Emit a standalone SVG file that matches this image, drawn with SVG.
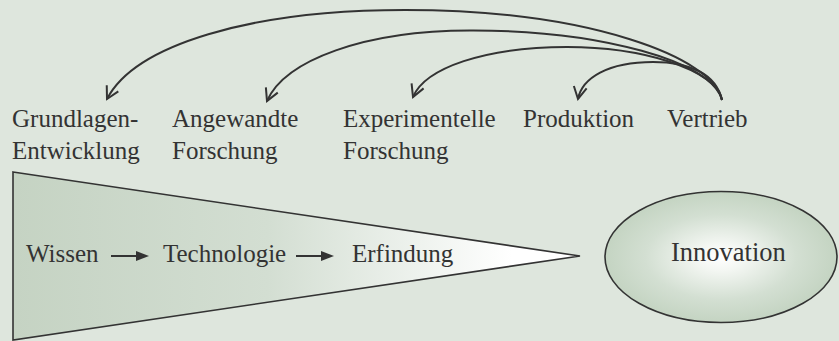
<svg xmlns="http://www.w3.org/2000/svg" width="839" height="341" viewBox="0 0 839 341">
  <defs>
    <style>
      .t { font-family: "Liberation Serif", "Times New Roman", serif; font-size: 25px; fill: #333333; }
      .arc { fill: none; stroke: #333333; stroke-width: 2; marker-end: url(#vhead); }
      .shape { stroke: #333333; stroke-width: 1.6; }
      .small { stroke: #333333; stroke-width: 2; fill: none; }
    </style>
    <marker id="vhead" markerUnits="userSpaceOnUse" markerWidth="20" markerHeight="20" refX="0" refY="0" viewBox="-14 -10 20 20" orient="auto">
      <path d="M-12,-6.5 L0,0 L-12,6.5" fill="none" stroke="#333333" stroke-width="2"/>
    </marker>
    <linearGradient id="wedge" x1="0" y1="0" x2="1" y2="0">
      <stop offset="0" stop-color="#c5d3c3"/>
      <stop offset="0.45" stop-color="#d3ded2"/>
      <stop offset="0.88" stop-color="#ffffff"/>
      <stop offset="1" stop-color="#ffffff"/>
    </linearGradient>
    <radialGradient id="oval" cx="0.5" cy="0.5" r="0.5">
      <stop offset="0" stop-color="#ffffff"/>
      <stop offset="0.2" stop-color="#f4f7f3"/>
      <stop offset="0.65" stop-color="#d3dfd2"/>
      <stop offset="1" stop-color="#c4d4c2"/>
    </radialGradient>
  </defs>
  <rect width="839" height="341" fill="#dee6dd"/>

  <g id="connectors">
    <path class="arc" d="M722,100 C714,58 590,10 405,10 C250,10 135,45 107,99"/>
    <path class="arc" d="M722,100 C714,62 600,30 470,30.5 C365,30.5 285,60 267,101"/>
    <path class="arc" d="M722,100 C714,68 640,47 567,47 C485,47 425,68 413,97"/>
    <path class="arc" d="M722,100 C716,74 690,62 653,62 C608,62 582,78 578,99"/>
  </g>

  <g id="grundlagen">
    <text class="t" x="12" y="127">Grundlagen-</text>
    <text class="t" x="12" y="159">Entwicklung</text>
  </g>
  <g id="angewandte">
    <text class="t" x="172" y="127">Angewandte</text>
    <text class="t" x="172" y="159">Forschung</text>
  </g>
  <g id="experimentelle">
    <text class="t" x="343" y="127">Experimentelle</text>
    <text class="t" x="343" y="159">Forschung</text>
  </g>
  <g id="produktion">
    <text class="t" x="523" y="127">Produktion</text>
  </g>
  <g id="vertrieb">
    <text class="t" x="667" y="127">Vertrieb</text>
  </g>

  <g id="wedge-node">
    <polygon class="shape" points="13,172 580,256 13,340" fill="url(#wedge)"/>
    <text class="t" x="26" y="262">Wissen</text>
    <line class="small" x1="111" y1="256" x2="138" y2="256"/>
    <polygon points="136,251 149,256 136,261" fill="#333333"/>
    <text class="t" x="163" y="262">Technologie</text>
    <line class="small" x1="296" y1="256" x2="323" y2="256"/>
    <polygon points="321,251 334,256 321,261" fill="#333333"/>
    <text class="t" x="352" y="262">Erfindung</text>
  </g>

  <g id="innovation">
    <ellipse class="shape" cx="721" cy="257" rx="116" ry="65.5" fill="url(#oval)"/>
    <text class="t" x="671" y="261" style="font-size:26.5px">Innovation</text>
  </g>
</svg>
